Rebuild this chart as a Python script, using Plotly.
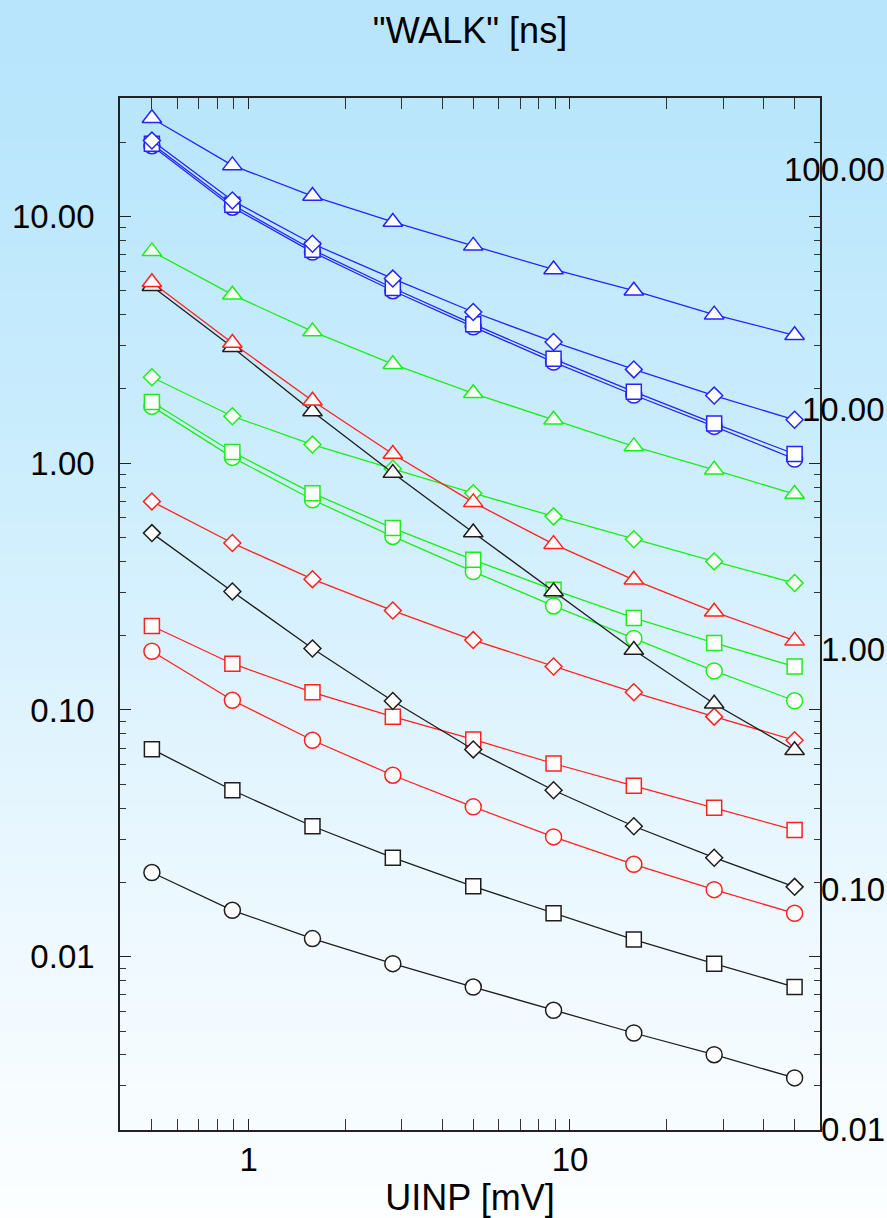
import base64
import math
import struct
import zlib

import plotly.graph_objects as go

# ---------------- data ----------------
uinp_mv = [0.5, 0.89, 1.58, 2.81, 5.0, 8.89, 15.8, 28.1, 50.0]

black_circle = [0.02195, 0.01543, 0.01185, 0.00938, 0.00754, 0.00607, 0.00491, 0.00401, 0.00323]
red_circle = [0.173, 0.1095, 0.0754, 0.0544, 0.0405, 0.0306, 0.0237, 0.0187, 0.0150]
green_circle = [1.70, 1.056, 0.711, 0.505, 0.364, 0.264, 0.195, 0.144, 0.109]
blue_circle = [19.35, 10.9, 7.17, 5.0, 3.57, 2.57, 1.89, 1.41, 1.04]

black_square = [0.0694, 0.0473, 0.0338, 0.0252, 0.0193, 0.0150, 0.01174, 0.00938, 0.00754]
red_square = [0.219, 0.154, 0.118, 0.094, 0.076, 0.0607, 0.0493, 0.0402, 0.0326]
green_square = [1.77, 1.11, 0.756, 0.546, 0.406, 0.307, 0.236, 0.187, 0.150]
blue_square = [19.7, 11.15, 7.33, 5.13, 3.66, 2.65, 1.95, 1.45, 1.09]

black_diamond = [0.521, 0.302, 0.1775, 0.1088, 0.0692, 0.0473, 0.0338, 0.0252, 0.0192]
red_diamond = [0.700, 0.475, 0.339, 0.253, 0.192, 0.150, 0.118, 0.094, 0.0754]
green_diamond = [2.23, 1.55, 1.19, 0.95, 0.756, 0.609, 0.492, 0.400, 0.327]
blue_diamond = [20.3, 11.6, 7.75, 5.6, 4.1, 3.1, 2.4, 1.88, 1.50]

black_triangle = [5.21, 2.95, 1.62, 0.912, 0.524, 0.302, 0.175, 0.106, 0.0687]
red_triangle = [5.41, 3.07, 1.79, 1.09, 0.694, 0.470, 0.337, 0.250, 0.191]
green_triangle = [7.22, 4.82, 3.42, 2.52, 1.92, 1.50, 1.17, 0.94, 0.75]
blue_triangle = [25.0, 16.1, 12.1, 9.5, 7.6, 6.1, 5.0, 4.0, 3.3]

x_tick_vals = [1, 10]
x_tick_text = ["1", "10"]
left_tick_vals = [0.01, 0.1, 1, 10]
left_tick_text = ["0.01", "0.10", "1.00", "10.00"]
right_tick_vals = [100, 10, 1, 0.1, 0.01]
right_tick_text = ["100.00", "10.00", "1.00", "0.10", "0.01"]

# ---------------- styles ----------------
COL = {"black": "#1e1e1e", "red": "#ff2020", "green": "#1aee1a", "blue": "#2424ff"}
FONT = "Liberation Sans, Arial, Helvetica, sans-serif"
W, H = 887, 1218
ML, MR, MT, MB = 120, 67, 98, 88
PW, PH = W - ML - MR, H - MT - MB


def gradient_png(height, stops):
    rows = []
    for yy in range(height):
        for i in range(len(stops) - 1):
            y0, c0 = stops[i]
            y1, c1 = stops[i + 1]
            if y0 <= yy <= y1:
                t = (yy - y0) / (y1 - y0) if y1 > y0 else 0
                rows.append(tuple(int(round(c0[k] + (c1[k] - c0[k]) * t)) for k in range(3)))
                break
    width = 4
    raw = b"".join(b"\x00" + bytes(r) * width for r in rows)

    def chunk(tag, data):
        return (struct.pack(">I", len(data)) + tag + data
                + struct.pack(">I", zlib.crc32(tag + data) & 0xFFFFFFFF))

    png = (b"\x89PNG\r\n\x1a\n"
           + chunk(b"IHDR", struct.pack(">IIBBBBB", width, height, 8, 2, 0, 0, 0))
           + chunk(b"IDAT", zlib.compress(raw, 9))
           + chunk(b"IEND", b""))
    return "data:image/png;base64," + base64.b64encode(png).decode()


bg_stops = [(0, (184, 229, 252)), (130, (186, 230, 252)), (450, (203, 237, 253)),
            (700, (222, 243, 254)), (950, (239, 249, 255)), (H - 1, (252, 254, 255))]

series = [
    (black_circle, "black", "circle"), (red_circle, "red", "circle"),
    (green_circle, "green", "circle"), (blue_circle, "blue", "circle"),
    (black_square, "black", "square"), (red_square, "red", "square"),
    (green_square, "green", "square"), (blue_square, "blue", "square"),
    (black_diamond, "black", "diamond"), (red_diamond, "red", "diamond"),
    (green_diamond, "green", "diamond"), (blue_diamond, "blue", "diamond"),
    (black_triangle, "black", "triangle-up"), (red_triangle, "red", "triangle-up"),
    (green_triangle, "green", "triangle-up"), (blue_triangle, "blue", "triangle-up"),
]
msize = {"circle": 16, "square": 15, "diamond": 13, "triangle-up": 17}

fig = go.Figure()
for vals, col, sym in series:
    fig.add_trace(go.Scatter(
        x=uinp_mv, y=vals, mode="lines+markers",
        line=dict(color=COL[col], width=1.3),
        marker=dict(symbol=sym, size=msize[sym], color="white",
                    line=dict(color=COL[col], width=1.5)),
        showlegend=False, hoverinfo="x+y",
    ))

# empty trace to activate the right-hand axis
fig.add_trace(go.Scatter(x=[], y=[], yaxis="y2", showlegend=False, hoverinfo="skip"))

axis_common = dict(
    type="log", showgrid=False, zeroline=False, showline=True, automargin=False,
    linecolor="#222222", linewidth=1.6, mirror="allticks",
    ticks="inside", ticklen=11, tickwidth=1.3, tickcolor="#222222",
    tickfont=dict(family=FONT, size=33, color="black"),
    minor=dict(ticks="inside", ticklen=6, tickwidth=1.1, tickcolor="#333333",
               dtick="D1", showgrid=False),
)

fig.update_layout(
    width=W, height=H, autosize=False,
    margin=dict(l=ML, r=MR, t=MT, b=MB, pad=0),
    paper_bgcolor="white", plot_bgcolor="rgba(0,0,0,0)",
    font=dict(family=FONT, color="black"),
    title=dict(text='"WALK" [ns]', x=0.5, xref="paper", xanchor="center",
               y=1 - 30 / H, yref="container", yanchor="middle",
               font=dict(family=FONT, size=36, color="black")),
    xaxis=dict(axis_common, range=[-0.4003, 1.778], tickmode="array",
               tickvals=x_tick_vals, ticktext=x_tick_text, ticklabelstandoff=0,
               title=dict(text="UINP [mV]", font=dict(family=FONT, size=36, color="black"),
                          standoff=10)),
    yaxis=dict(axis_common, range=[-2.702, 1.48], tickmode="array",
               tickvals=left_tick_vals, ticktext=left_tick_text, ticklabelstandoff=17),
    yaxis2=dict(type="log", overlaying="y", side="right", range=[-2.004, 2.299],
                showticklabels=False, ticks="", showline=False, showgrid=False,
                zeroline=False, automargin=False),
    images=[dict(source=gradient_png(H, bg_stops), xref="paper", yref="paper",
                 x=-ML / PW, y=1 + MT / PH, sizex=W / PW, sizey=H / PH,
                 xanchor="left", yanchor="top", sizing="stretch", layer="below")],
)

for v, t in zip(right_tick_vals, right_tick_text):
    fig.add_annotation(x=1 + (887 - (ML + PW)) / PW, xref="paper", xanchor="right",
                       y=math.log10(v), yref="y2", yanchor="middle",
                       text=t, showarrow=False,
                       font=dict(family=FONT, size=33, color="black"))

fig.write_html(
    "out.html",
    config={"displayModeBar": False},
    post_script="document.body.style.margin='0';document.body.style.overflow='hidden';",
)
